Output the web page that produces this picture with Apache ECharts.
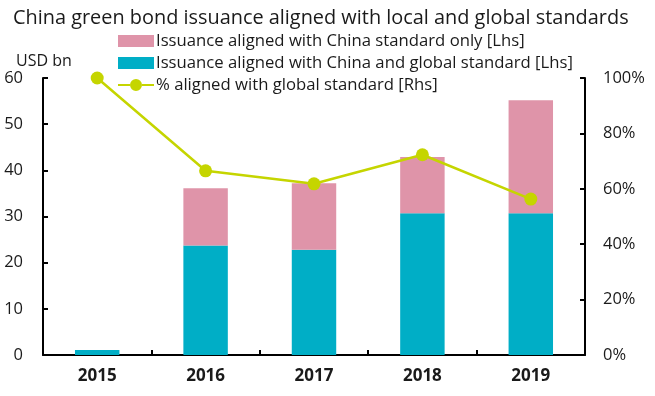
<!DOCTYPE html>
<html>
<head>
<meta charset="utf-8">
<script src="https://cdn.jsdelivr.net/npm/echarts@6/dist/echarts.min.js"></script>
<style>
  html, body { margin: 0; padding: 0; background: #fff; }
  #chart { width: 655px; height: 396px; }
</style>
</head>
<body>
<div id="chart"></div>
<script>
var years = ['2015', '2016', '2017', '2018', '2019'];
var chinaAndGlobal = [1.1, 23.7, 22.8, 30.7, 30.7];
var chinaOnly = [0, 12.4, 14.4, 12.2, 24.5];
var pctGlobal = [100, 66.5, 61.8, 72.3, 56.3];
var leftTicks = [0, 10, 20, 30, 40, 50, 60];
var rightTicks = [0, 20, 40, 60, 80, 100];

var nameOnly = 'Issuance aligned with China standard only [Lhs]';
var nameBoth = 'Issuance aligned with China and global standard [Lhs]';
var namePct = '% aligned with global standard [Rhs]';

var font = '"Open Sans", sans-serif';
var ink = '#1a1a1a';
var teal = '#00AEC6';
var pink = '#DF94A9';
var lime = '#C5D500';

// line + dot legend icon (36 x 12 box)
var lineDotIcon = 'path://M0,5 L12,5 L12,7 L0,7 Z M24,5 L36,5 L36,7 L24,7 Z M12,6 A6,6 0 1,1 24,6 A6,6 0 1,1 12,6 Z';

var chart = echarts.init(document.getElementById('chart'), null, { renderer: 'canvas' });
chart.setOption({
  animation: false,
  textStyle: { fontFamily: font, color: ink },
  title: {
    text: 'China green bond issuance aligned with local and global standards',
    left: 8, top: 3,
    textStyle: { fontFamily: font, fontSize: 19.9, fontWeight: 'normal', color: ink }
  },
  legend: {
    orient: 'vertical',
    left: 113, top: 30,
    padding: [2, 5],
    itemGap: 4,
    itemWidth: 36, itemHeight: 12,
    textStyle: { fontFamily: font, fontSize: 16.7, lineHeight: 18, color: ink, padding: [0, 0, 0, -3] },
    data: [
      { name: nameOnly, icon: 'rect' },
      { name: nameBoth, icon: 'rect' },
      { name: namePct, icon: lineDotIcon }
    ]
  },
  grid: { left: 43, right: 70, top: 78, bottom: 41, containLabel: false },
  xAxis: {
    type: 'category',
    data: years,
    axisLine: { lineStyle: { color: '#000', width: 2 } },
    axisTick: { show: true, inside: true, length: 5, lineStyle: { color: '#000', width: 2 } },
    axisLabel: { fontFamily: font, fontSize: 17, fontWeight: 'bold', color: ink, margin: 13 }
  },
  yAxis: [
    {
      type: 'value', min: 0, max: 60, interval: 10,
      name: 'USD bn', nameLocation: 'end', nameGap: 9,
      nameTextStyle: { fontFamily: font, fontSize: 16, color: ink, align: 'left', padding: [0, 0, 0, -27] },
      splitLine: { show: false },
      axisLine: { show: true, lineStyle: { color: '#000', width: 2 } },
      axisTick: { show: true, inside: true, length: 5, lineStyle: { color: '#000', width: 2 } },
      axisLabel: { fontFamily: font, fontSize: 16.5, color: ink, margin: 20,
        formatter: function(v) { return leftTicks.indexOf(v) >= 0 ? String(v) : ''; } }
    },
    {
      type: 'value', min: 0, max: 100, interval: 20,
      splitLine: { show: false },
      axisLine: { show: true, lineStyle: { color: '#000', width: 2 } },
      axisTick: { show: true, inside: true, length: 5, lineStyle: { color: '#000', width: 2 } },
      axisLabel: { fontFamily: font, fontSize: 16.5, color: ink, margin: 18,
        formatter: function(v) { return rightTicks.indexOf(v) >= 0 ? v + '%' : ''; } }
    }
  ],
  series: [
    {
      name: nameBoth, type: 'bar', stack: 'iss', yAxisIndex: 0,
      barWidth: '41%',
      itemStyle: { color: teal },
      data: chinaAndGlobal
    },
    {
      name: nameOnly, type: 'bar', stack: 'iss', yAxisIndex: 0,
      barWidth: '41%',
      itemStyle: { color: pink },
      data: chinaOnly
    },
    {
      name: namePct, type: 'line', yAxisIndex: 1,
      symbol: 'circle', symbolSize: 13,
      lineStyle: { color: lime, width: 2.5 },
      itemStyle: { color: lime },
      data: pctGlobal
    }
  ]
});
window.addEventListener('resize', function() { chart.resize(); });
</script>
</body>
</html>
